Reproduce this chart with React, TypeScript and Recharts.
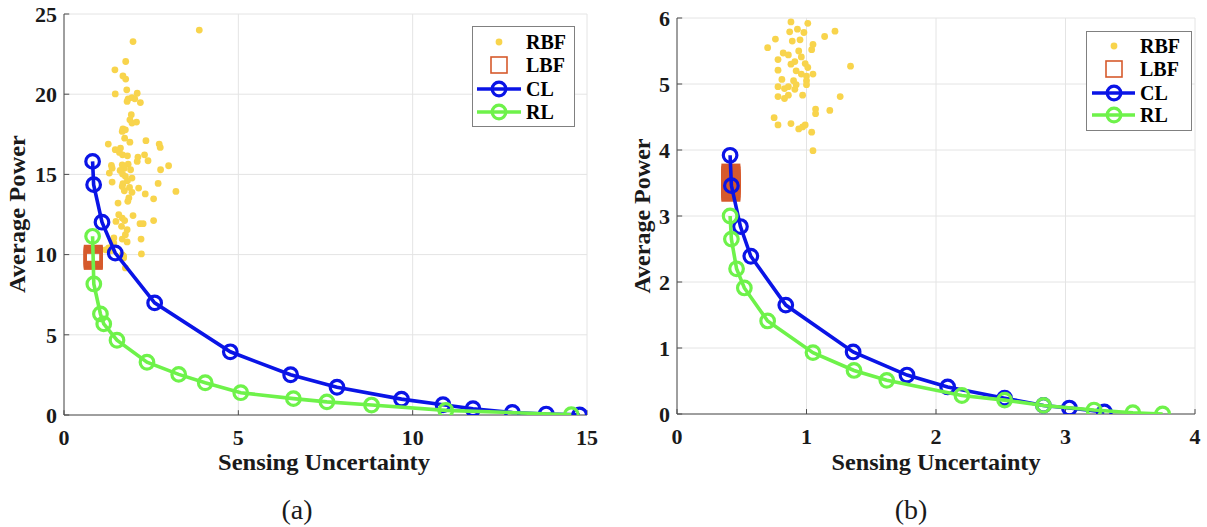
import React from "react";
import {
  ScatterChart,
  Scatter,
  XAxis,
  YAxis,
  CartesianGrid,
  ReferenceLine,
} from "recharts";

const FONT = '"Liberation Serif", "Times New Roman", serif';
const RBF_COLOR = "#f8d44c";
const LBF_COLOR = "#d65a2c";
const CL_COLOR = "#0a14e6";
const RL_COLOR = "#6ef24a";
const AXIS_COLOR = "#4d4d4d";
const GRID_COLOR = "#e4e4e4";

// ---- panel (a) ----
const rbfUncertaintyA = [
  1.98, 1.77, 1.46, 1.69, 1.77, 1.47, 1.8, 2.1, 1.84, 1.95,
  2.03, 2.19, 1.81, 1.93, 1.89, 2.08, 1.95, 1.69, 1.67, 1.76,
  1.74, 1.89, 2.35, 1.27, 2.73, 2.76, 1.47, 1.62, 1.59, 1.68,
  1.82, 2.12, 2.31, 2.41, 1.36, 1.38, 1.67, 1.84, 1.73, 1.91,
  2.1, 1.3, 1.61, 1.68, 3.0, 2.77, 1.76, 1.95, 1.82, 1.69,
  1.38, 2.7, 1.67, 1.88, 2.14, 1.73, 1.95, 2.33, 3.21, 1.86,
  1.83, 1.55, 2.57, 1.57, 1.98, 1.67, 1.74, 1.49, 2.18, 2.27,
  2.57, 1.65, 1.81, 1.76, 1.67, 1.43, 2.21, 1.81, 1.28, 1.36,
  2.22, 1.67, 1.71, 1.76, 3.88, 1.43, 1.71, 1.19,
];
const rbfPowerA = [
  23.28, 22.04, 21.52, 21.14, 20.94, 20.02, 20.27, 20.06, 19.71, 19.79,
  19.71, 19.48, 19.55, 18.72, 18.4, 18.26, 18.2, 17.84, 17.68, 17.78,
  17.26, 17.01, 17.1, 16.89, 16.89, 16.68, 16.54, 16.64, 16.37, 16.22,
  16.16, 16.08, 16.22, 15.85, 15.56, 15.39, 15.6, 15.64, 15.39, 15.29,
  15.81, 15.08, 15.25, 15.02, 15.54, 15.29, 14.88, 14.77, 14.61, 14.42,
  14.52, 14.44, 14.25, 14.19, 14.15, 13.98, 13.88, 13.78, 13.94, 13.53,
  13.32, 13.21, 13.48, 12.49, 12.43, 12.28, 12.12, 12.07, 11.93, 11.93,
  12.12, 11.76, 11.55, 11.24, 10.97, 11.04, 10.97, 10.79, 10.41, 10.25,
  10.04, 10.0, 9.79, 9.17, 24.0, 10.72, 9.9, 10.3,
];
const lbfUncertaintyA = [0.84, 0.84, 0.84, 0.84, 0.84, 0.84, 0.84];
const lbfPowerA = [9.64, 9.7, 9.76, 9.82, 9.88, 9.95, 10.02];
const clUncertaintyA = [0.82, 0.85, 1.09, 1.47, 2.6, 4.77, 6.5, 7.83, 9.68, 10.87, 11.73, 12.86, 13.83, 14.79];
const clPowerA = [15.81, 14.36, 12.02, 10.1, 6.99, 3.94, 2.51, 1.73, 0.99, 0.64, 0.39, 0.16, 0.06, 0.01];
const rlUncertaintyA = [0.82, 0.855, 1.045, 1.14, 1.52, 2.38, 3.29, 4.05, 5.07, 6.58, 7.54, 8.82, 10.95, 14.55];
const rlPowerA = [11.14, 8.17, 6.3, 5.68, 4.66, 3.29, 2.53, 2.01, 1.39, 1.02, 0.82, 0.62, 0.29, 0.02];
const xTicksA = [0, 5, 10, 15];
const yTicksA = [0, 5, 10, 15, 20, 25];

// ---- panel (b) ----
const rbfUncertaintyB = [
  0.88, 1.01, 0.93, 0.87, 0.98, 1.22, 1.14, 0.76, 0.89, 0.95,
  1.05, 0.7, 1.04, 0.94, 0.82, 0.86, 0.96, 0.78, 0.91, 0.88,
  0.99, 1.01, 1.34, 0.78, 0.92, 0.96, 1.05, 1.0, 0.81, 0.9,
  1.0, 0.92, 1.0, 0.78, 0.86, 0.83, 0.91, 0.78, 0.86, 0.83,
  0.97, 1.26, 1.07, 1.07, 1.18, 0.75, 0.78, 0.88, 0.94, 0.97,
  0.99, 1.04, 1.05,
];
const rbfPowerB = [
  5.94, 5.92, 5.83, 5.79, 5.78, 5.8, 5.72, 5.68, 5.65, 5.67,
  5.6, 5.55, 5.52, 5.5, 5.47, 5.44, 5.41, 5.37, 5.34, 5.3,
  5.31, 5.25, 5.27, 5.21, 5.2, 5.15, 5.15, 5.12, 5.07, 5.05,
  5.05, 4.99, 4.99, 4.96, 4.96, 4.93, 4.92, 4.81, 4.83, 4.78,
  4.83, 4.81, 4.62, 4.55, 4.6, 4.49, 4.38, 4.4, 4.32, 4.35,
  4.38, 4.27, 3.99,
];
const lbfUncertaintyB = [0.416, 0.416, 0.416, 0.416, 0.416, 0.416, 0.416, 0.416, 0.416, 0.416, 0.416, 0.416, 0.416];
const lbfPowerB = [3.36, 3.38, 3.41, 3.43, 3.46, 3.48, 3.5, 3.52, 3.55, 3.57, 3.6, 3.62, 3.65];
const clUncertaintyB = [0.41, 0.42, 0.49, 0.57, 0.84, 1.36, 1.776, 2.09, 2.53, 2.83, 3.03, 3.3];
const clPowerB = [3.92, 3.46, 2.84, 2.39, 1.65, 0.94, 0.59, 0.41, 0.24, 0.13, 0.09, 0.03];
const rlUncertaintyB = [0.41, 0.42, 0.46, 0.52, 0.7, 1.05, 1.367, 1.62, 2.2, 2.53, 2.83, 3.22, 3.52, 3.75];
const rlPowerB = [3.0, 2.65, 2.2, 1.91, 1.41, 0.93, 0.66, 0.51, 0.28, 0.21, 0.13, 0.06, 0.02, 0.0];
const xTicksB = [0, 1, 2, 3, 4];
const yTicksB = [0, 1, 2, 3, 4, 5, 6];

type Pt = { x: number; y: number };
const zip = (xs: number[], ys: number[]): Pt[] => xs.map((x, i) => ({ x, y: ys[i] }));

const RING_R = 6.8;
const RING_W = 3.2;

const RbfDot = (p: any) => <circle cx={p.cx} cy={p.cy} r={3.4} fill={RBF_COLOR} />;
const LbfSquare = (p: any) => (
  <rect x={p.cx - 8} y={p.cy - 8} width={16} height={16} fill="none" stroke={LBF_COLOR} strokeWidth={3} />
);
const ring = (color: string) => (p: any) =>
  <circle cx={p.cx} cy={p.cy} r={RING_R} fill="none" stroke={color} strokeWidth={RING_W} />;

const tickStyle = { fontFamily: FONT, fontSize: 22, fontWeight: "bold", fill: "#1a1a1a" };

interface PanelProps {
  left: number;
  width: number;
  margin: { top: number; right: number; bottom: number; left: number };
  xMax: number;
  yMax: number;
  xTicks: number[];
  yTicks: number[];
  tickLenX: number;
  tickLenY: number;
  rbf: Pt[];
  lbf: Pt[];
  cl: Pt[];
  rl: Pt[];
}

function Panel(props: PanelProps) {
  const { xMax, yMax, xTicks, yTicks, tickLenX, tickLenY } = props;
  return (
    <div style={{ position: "absolute", left: props.left, top: 0 }}>
      <ScatterChart width={props.width} height={527} margin={props.margin}>
        <CartesianGrid stroke={GRID_COLOR} strokeWidth={1} />
        <XAxis
          type="number"
          dataKey="x"
          domain={[0, xMax]}
          ticks={xTicks}
          interval={0}
          allowDataOverflow
          height={40}
          tickLine={false}
          tickSize={0}
          tickMargin={14}
          axisLine={{ stroke: AXIS_COLOR, strokeWidth: 1 }}
          tick={tickStyle}
        />
        <YAxis
          type="number"
          dataKey="y"
          domain={[0, yMax]}
          ticks={yTicks}
          interval={0}
          allowDataOverflow
          width={60}
          tickLine={false}
          tickSize={0}
          tickMargin={7}
          axisLine={{ stroke: AXIS_COLOR, strokeWidth: 1 }}
          tick={tickStyle}
        />
        {/* inward tick marks */}
        {xTicks.map((t) => (
          <ReferenceLine
            key={"xt" + t}
            segment={[{ x: t, y: 0 }, { x: t, y: tickLenY }]}
            stroke={AXIS_COLOR}
            strokeWidth={1}
            ifOverflow="visible"
          />
        ))}
        {yTicks.map((t) => (
          <ReferenceLine
            key={"yt" + t}
            segment={[{ x: 0, y: t }, { x: tickLenX, y: t }]}
            stroke={AXIS_COLOR}
            strokeWidth={1}
            ifOverflow="visible"
          />
        ))}
        <Scatter name="RBF" data={props.rbf} shape={RbfDot} isAnimationActive={false} />
        <Scatter name="LBF" data={props.lbf} shape={LbfSquare} isAnimationActive={false} />
        <Scatter
          name="CL"
          data={props.cl}
          line={{ stroke: CL_COLOR, strokeWidth: 3.6 }}
          shape={ring(CL_COLOR)}
          isAnimationActive={false}
        />
        <Scatter
          name="RL"
          data={props.rl}
          line={{ stroke: RL_COLOR, strokeWidth: 3.6 }}
          shape={ring(RL_COLOR)}
          isAnimationActive={false}
        />
      </ScatterChart>
    </div>
  );
}

function LegendBox({ x, y, w, h, rows, sym, line0, line1, textX }: {
  x: number; y: number; w: number; h: number; rows: number[];
  sym: number; line0: number; line1: number; textX: number;
}) {
  const label = (cy: number, text: string) => (
    <text x={textX} y={cy + 7} fontFamily={FONT} fontSize={20} fontWeight="bold" fill="#000">
      {text}
    </text>
  );
  return (
    <g>
      <rect x={x} y={y} width={w} height={h} fill="#fff" stroke="#808080" strokeWidth={1} />
      <circle cx={sym} cy={rows[0]} r={3.4} fill={RBF_COLOR} />
      {label(rows[0], "RBF")}
      <rect x={sym - 8} y={rows[1] - 8} width={16} height={16} fill="none" stroke={LBF_COLOR} strokeWidth={1.6} />
      {label(rows[1], "LBF")}
      <line x1={line0} x2={line1} y1={rows[2]} y2={rows[2]} stroke={CL_COLOR} strokeWidth={3.6} />
      <circle cx={sym} cy={rows[2]} r={RING_R} fill="none" stroke={CL_COLOR} strokeWidth={RING_W} />
      {label(rows[2], "CL")}
      <line x1={line0} x2={line1} y1={rows[3]} y2={rows[3]} stroke={RL_COLOR} strokeWidth={3.6} />
      <circle cx={sym} cy={rows[3]} r={RING_R} fill="none" stroke={RL_COLOR} strokeWidth={RING_W} />
      {label(rows[3], "RL")}
    </g>
  );
}

export default function App() {
  const title = { fontFamily: FONT, fontSize: 23, fontWeight: "bold" as const, fill: "#1a1a1a" };
  const caption = { fontFamily: FONT, fontSize: 28, fill: "#1a1a1a" };
  return (
    <div style={{ position: "absolute", left: 0, top: 0, width: 1207, height: 527, background: "#fff" }}>
      <Panel
        left={0}
        width={600}
        margin={{ top: 14, right: 13, bottom: 72, left: 4 }}
        xMax={15}
        yMax={25}
        xTicks={xTicksA}
        yTicks={yTicksA}
        tickLenX={0.15}
        tickLenY={0.3}
        rbf={zip(rbfUncertaintyA, rbfPowerA)}
        lbf={zip(lbfUncertaintyA, lbfPowerA)}
        cl={zip(clUncertaintyA, clPowerA)}
        rl={zip(rlUncertaintyA, rlPowerA)}
      />
      <Panel
        left={600}
        width={607}
        margin={{ top: 18, right: 12, bottom: 73, left: 17 }}
        xMax={4}
        yMax={6}
        xTicks={xTicksB}
        yTicks={yTicksB}
        tickLenX={0.04}
        tickLenY={0.075}
        rbf={zip(rbfUncertaintyB, rbfPowerB)}
        lbf={zip(lbfUncertaintyB, lbfPowerB)}
        cl={zip(clUncertaintyB, clPowerB)}
        rl={zip(rlUncertaintyB, rlPowerB)}
      />
      <svg
        width={1207}
        height={527}
        style={{ position: "absolute", left: 0, top: 0, pointerEvents: "none" }}
      >
        <LegendBox x={472.5} y={26.5} w={102} h={100} rows={[42, 65, 89, 112]} sym={499} line0={477} line1={521} textX={526} />
        <LegendBox x={1086.5} y={31.5} w={105} h={99} rows={[46, 69, 93, 115]} sym={1114} line0={1092} line1={1135} textX={1140} />

        <text x={324} y={470} textAnchor="middle" textLength={212} lengthAdjust="spacingAndGlyphs" {...title}>
          Sensing Uncertainty
        </text>
        <text x={25} y={214} textAnchor="middle" transform="rotate(-90, 25, 214)" textLength={158} lengthAdjust="spacingAndGlyphs" {...title}>
          Average Power
        </text>
        <text x={936} y={470} textAnchor="middle" textLength={209} lengthAdjust="spacingAndGlyphs" {...title}>
          Sensing Uncertainty
        </text>
        <text x={650} y={216} textAnchor="middle" transform="rotate(-90, 650, 216)" textLength={155} lengthAdjust="spacingAndGlyphs" {...title}>
          Average Power
        </text>

        <text x={297} y={519} textAnchor="middle" {...caption}>(a)</text>
        <text x={911} y={519} textAnchor="middle" {...caption}>(b)</text>
      </svg>
    </div>
  );
}
